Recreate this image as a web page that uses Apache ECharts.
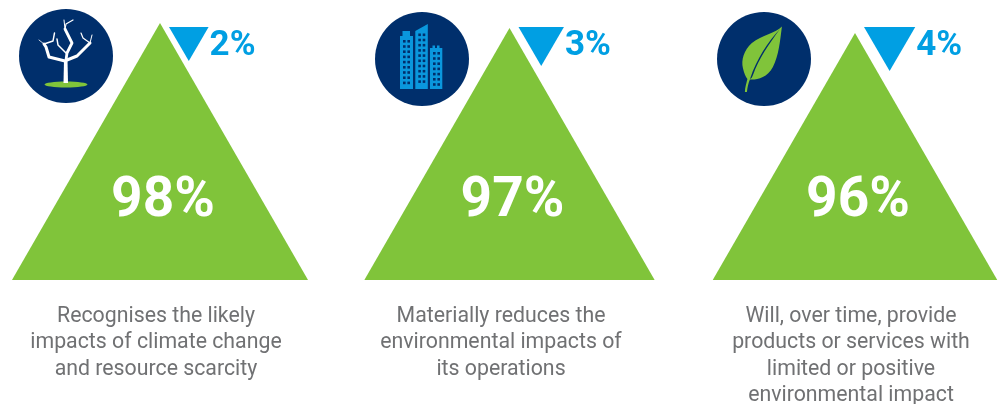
<!DOCTYPE html>
<html>
<head>
<meta charset="utf-8">
<title>Environmental criteria</title>
<style>html,body{margin:0;padding:0;background:#fff}#chart{width:1003px;height:404px}</style>
<script src="https://cdn.jsdelivr.net/npm/echarts@6/dist/echarts.min.js"></script>
</head>
<body>
<div id="chart"></div>
<script>
// Share of companies meeting each criterion, and the share that does not.
const categories = ['Climate and resources', 'Operations', 'Products and services'];
const meets = [98, 97, 96];
const fails = [2, 3, 4];
const captions = [
  'Recognises the likely\nimpacts of climate change\nand resource scarcity',
  'Materially reduces the\nenvironmental impacts of\nits operations',
  'Will, over time, provide\nproducts or services with\nlimited or positive\nenvironmental impact'
];

const GREEN = '#80c43a', BLUE = '#009fe3', NAVY = '#002f6c', GREY = '#707173';
const FONT = 'Roboto, sans-serif';
const TRIANGLE_ASPECT = 1.152;
const FAIL_ASPECT = 1.165;
const MARK_NUDGE = [0, 2, 0];
const CAPTION_NUDGE = [-4, -8.5, -4];

function triangle(points, fill) {
  return { type: 'polygon', shape: { points }, style: { fill } };
}

function renderMeets(params, api) {
  const i = api.value(0);
  const apex = api.coord([i, api.value(1)]);
  const base = api.coord([i, 46.6]);
  const cx = apex[0] + MARK_NUDGE[i];
  const half = (base[1] - apex[1]) * TRIANGLE_ASPECT / 2;
  return {
    type: 'group',
    children: [
      triangle([[cx, apex[1]], [cx + half, base[1]], [cx - half, base[1]]], GREEN),
      {
        type: 'text',
        style: {
          text: meets[i] + '%', x: cx + 3, y: 202, align: 'center', verticalAlign: 'middle',
          fill: '#fff', fontFamily: FONT, fontWeight: 700, fontSize: 55
        }
      },
      {
        type: 'text',
        style: {
          text: captions[i], x: cx + CAPTION_NUDGE[i], y: 303, align: 'center', verticalAlign: 'top',
          fill: GREY, fontFamily: FONT, fontWeight: 400, fontSize: 21.3, lineHeight: 26.5
        }
      }
    ]
  };
}

function renderFails(params, api) {
  const i = api.value(0);
  const tip = api.coord([i, api.value(1)]);
  const top = api.coord([i, -4.8]);
  const half = (tip[1] - top[1]) * FAIL_ASPECT / 2;
  const cx = tip[0] + MARK_NUDGE[i] + half + 9;
  return {
    type: 'group',
    children: [
      triangle([[cx - half, top[1]], [cx + half, top[1]], [cx, tip[1]]], BLUE),
      {
        type: 'text',
        style: {
          text: fails[i] + '%', x: cx + half + 1, y: 46, align: 'left', verticalAlign: 'middle',
          fill: BLUE, fontFamily: FONT, fontWeight: 700, fontSize: 35
        }
      }
    ]
  };
}

// Round badges behind the three topic icons.
function badge(cx, cy, children) {
  return {
    type: 'group',
    children: [{ type: 'circle', shape: { cx, cy, r: 47 }, style: { fill: NAVY } }].concat(children)
  };
}

function branch(points, lineWidth) {
  return {
    type: 'polyline', shape: { points },
    style: { stroke: '#fff', lineWidth, fill: 'none', lineJoin: 'round', lineCap: 'round' }
  };
}

const treeIcon = [
  { type: 'ellipse', shape: { cx: 66, cy: 84.5, rx: 21.5, ry: 3 }, style: { fill: GREEN } },
  { type: 'polygon', shape: { points: [[63.5, 83], [68, 83], [67.5, 60], [64, 60]] }, style: { fill: '#fff' } },
  branch([[65, 61], [49, 57], [46, 47], [44, 44]], 3),
  branch([[44, 44], [53, 41], [54.5, 33]], 1.4),
  branch([[44, 44], [39, 40]], 0.8),
  branch([[66, 60], [67, 53], [72, 43], [65, 29]], 2.8),
  branch([[65, 29], [66, 24], [73, 20]], 1.2),
  branch([[65, 29], [64, 20]], 1),
  branch([[66, 53], [58, 45], [57, 39]], 1.5),
  branch([[67, 60], [77, 56], [90, 43]], 3),
  branch([[90, 43], [83, 38], [81, 33]], 1.2),
  branch([[90, 43], [92, 35]], 1)
];

function windows(left, top, rows, cols) {
  const cells = [];
  for (let r = 0; r < rows; r++) {
    for (let c = 0; c < cols; c++) {
      cells.push({
        type: 'rect',
        shape: { x: left + c * 4.4, y: top + r * 5.2, width: 2.6, height: 2.6 },
        style: { fill: NAVY }
      });
    }
  }
  return cells;
}

const blockFill = { fill: '#0a97dd' };
const cityIcon = [
  { type: 'polygon', shape: { points: [[400, 89], [400, 36], [402.5, 36], [402.5, 31], [410, 31], [410, 36], [413, 36], [413, 89]] }, style: blockFill },
  { type: 'polygon', shape: { points: [[415.3, 89], [415.3, 31], [427.8, 24], [427.8, 89]] }, style: blockFill },
  { type: 'polygon', shape: { points: [[430, 89], [430, 48], [432.5, 48], [432.5, 45.5], [435, 45.5], [435, 48], [437, 48], [437, 45.5], [439.5, 45.5], [439.5, 48], [442.3, 48], [442.3, 89]] }, style: blockFill }
].concat(windows(403, 40, 9, 2), windows(418.3, 33.5, 10, 2), windows(433, 52, 7, 2));

const leafIcon = [
  {
    type: 'path',
    shape: {
      pathData: 'M782 26.5 C776 33 762 35 752 43 C744 50 741 60 743 68 C744 73 746 77 747.5 79 C746.5 83 745 88 745 92 L747 92 C747.5 87 748.5 83 750 79.5 C757 80 767 78 773 67 C779 55 780 42 782 26.5 Z',
      x: 742.2, y: 26.5, width: 39.8, height: 65.5
    },
    style: { fill: GREEN }
  },
  {
    type: 'path',
    shape: {
      pathData: 'M780 29 C768 42 757 58 750 79 C752 78 752 77 753 75 C759 58 769 44 780 29 Z',
      x: 750, y: 29, width: 30, height: 50
    },
    style: { fill: NAVY }
  }
];

const BADGES = [badge(66, 56, treeIcon), badge(422, 59, cityIcon), badge(764, 59, leafIcon)];

const chart = echarts.init(document.getElementById('chart'), null, { renderer: 'canvas' });
chart.setOption({
  backgroundColor: '#fff',
  animation: false,
  grid: [
    { left: -13.75, width: 1042.5, top: 23, height: 257, outerBoundsMode: 'none' },
    { left: -13.75, width: 1042.5, top: 27, height: 50, outerBoundsMode: 'none' }
  ],
  xAxis: [
    { type: 'category', gridIndex: 0, data: categories, show: false },
    { type: 'category', gridIndex: 1, data: categories, show: false }
  ],
  yAxis: [
    { type: 'value', gridIndex: 0, min: 46.6, max: 98, show: false },
    { type: 'value', gridIndex: 1, min: -4.8, max: 5.2, inverse: true, show: false }
  ],
  series: [
    {
      type: 'custom', name: 'Icons', xAxisIndex: 0, yAxisIndex: 0, clip: false, silent: true,
      data: meets.map((v, i) => [i, v]),
      renderItem: (params, api) => BADGES[api.value(0)]
    },
    {
      type: 'custom', name: 'Meets', xAxisIndex: 0, yAxisIndex: 0, clip: false, silent: true,
      data: meets.map((v, i) => [i, v]), renderItem: renderMeets
    },
    {
      type: 'custom', name: 'Does not meet', xAxisIndex: 1, yAxisIndex: 1, clip: false, silent: true,
      data: fails.map((v, i) => [i, v]), renderItem: renderFails
    }
  ]
});
</script>
</body>
</html>
